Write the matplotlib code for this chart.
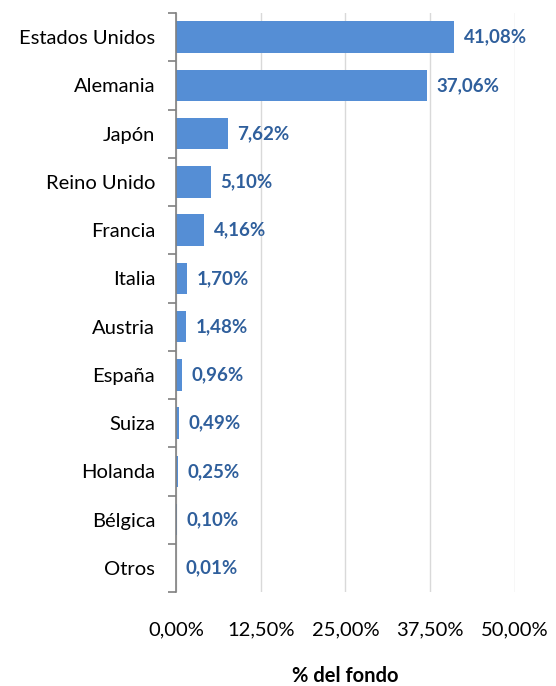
import numpy as np
import matplotlib.pyplot as plt
from matplotlib.ticker import FixedLocator

# datos
paises = ['Estados Unidos', 'Alemania', 'Japón', 'Reino Unido', 'Francia', 'Italia',
          'Austria', 'España', 'Suiza', 'Holanda', 'Bélgica', 'Otros']
valores = [41.08, 37.06, 7.62, 5.10, 4.16, 1.70, 1.48, 0.96, 0.49, 0.25, 0.10, 0.01]
ticks_x = [0, 12.5, 25, 37.5, 50]

plt.rcParams['font.family'] = ['Lato', 'DejaVu Sans']

fig = plt.figure(figsize=(5.56, 6.86), dpi=100)
ax = fig.add_axes([0.3165, 0.137, 0.6095, 0.844])

n = len(paises)
y = np.arange(n)
ax.barh(y, valores, height=0.65, color='#558ED5', zorder=3)

for yi, v in zip(y, valores):
    ax.text(v + 1.4, yi, f'{v:.2f}%'.replace('.', ','), va='center', ha='left',
            fontsize=13.5, fontweight='bold', color='#2F5F9C', zorder=4)

ax.set_ylim(n - 0.5, -0.5)
ax.set_xlim(0, 50)

# ticks eje y: marcas en los limites, etiquetas en el centro
ax.yaxis.set_major_locator(FixedLocator(np.arange(n + 1) - 0.5))
ax.yaxis.set_minor_locator(FixedLocator(y))
ax.set_yticklabels([], minor=False)
ax.set_yticklabels(paises, minor=True, fontsize=14.5)
ax.tick_params(axis='y', which='major', length=6, width=1.2, color='#808080', direction='out')
ax.tick_params(axis='y', which='minor', length=0, pad=15)

ax.set_xticks(ticks_x)
ax.set_xticklabels([f'{t:.2f}%'.replace('.', ',') for t in ticks_x], fontsize=14.5)
ax.tick_params(axis='x', length=0, pad=21)
ax.grid(axis='x', color='#D9D9D9', linewidth=1, zorder=0)

for s in ['top', 'right', 'bottom']:
    ax.spines[s].set_visible(False)
ax.spines['left'].set_color('#808080')
ax.spines['left'].set_linewidth(1.2)
ax.spines['left'].set_zorder(5)

ax.set_xlabel('% del fondo', fontsize=14.5, fontweight='bold', labelpad=20)

fig.savefig('out.png', dpi=100)
